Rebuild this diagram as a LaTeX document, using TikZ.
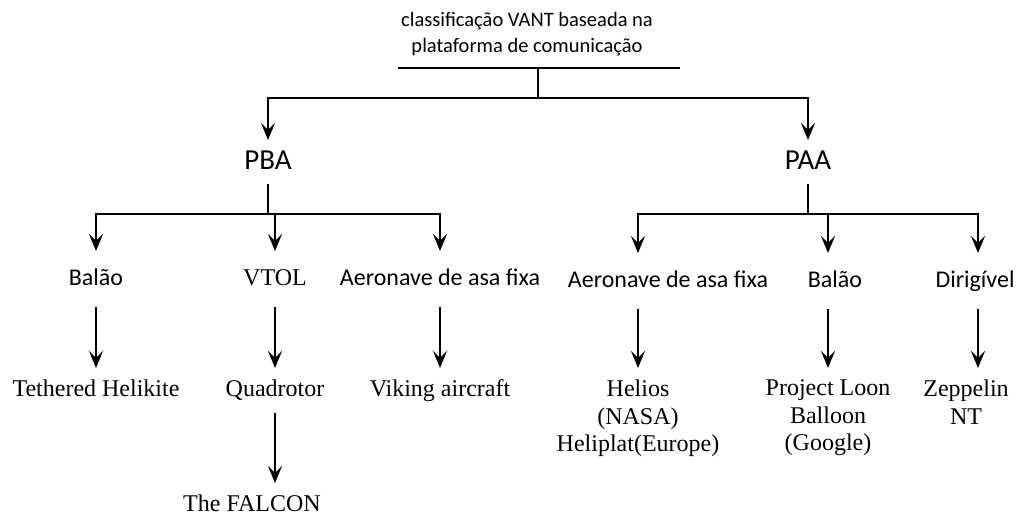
\documentclass[tikz,border=0pt]{standalone}
\usepackage{fontspec}
\setmainfont{Liberation Serif}
\newfontfamily\calibrifont{Carlito}
\usetikzlibrary{arrows.meta}
\usetikzlibrary{positioning}

\begin{document}
\begin{tikzpicture}[x=1pt,y=-1pt,
  topic/.style={font=\calibrifont\fontsize{20.5}{26}\selectfont, align=center, inner sep=0pt},
  platform/.style={font=\calibrifont\fontsize{29}{34}\selectfont, inner sep=0pt, text height=20pt, text depth=6pt, outer ysep=9pt},
  kind/.style={font=\calibrifont\fontsize{24}{28}\selectfont, inner sep=0pt, text height=17pt, text depth=5pt, outer ysep=17pt},
  craft/.style={font=\fontsize{24}{27.5}\selectfont, align=center, inner sep=0pt, outer ysep=12pt, anchor=north},
  link/.style={line width=2.8pt},
  arr/.style={line width=2.8pt, -{Stealth[length=17pt,width=14pt,inset=7pt]}}]
            % UAV classification tree
            \useasboundingbox (0,0) rectangle (1024,515);
            \node[topic] (topic) at (527,34) {classificação VANT baseada na\\plataforma de comunicação};
            \coordinate (barl) at (398,68);
            \coordinate (barr) at (680,68);
            \coordinate (bar) at (538,68);
            \coordinate (fork) at (538,98);
            
            \node[platform] (pba) at (268,162) {PBA};
            \node[platform] (paa) at (808,162) {PAA};
            \coordinate (forkpba) at (268,214);
            \coordinate (forkpaa) at (808,214);
            
            \node[kind] (balao1) at (96,279) {Balão};
            \node[kind, font=\fontsize{24}{28}\selectfont] (vtol) at (275,279) {VTOL};
            \node[kind] (asa1) at (440,279) {Aeronave de asa fixa};
            \node[kind] (asa2) at (668,281) {Aeronave de asa fixa};
            \node[kind] (balao2) at (835,281) {Balão};
            \node[kind] (dirigivel) at (975,281) {Dirigível};
            
            \node[craft] (helikite) at (96,368) {Tethered Helikite};
            \node[craft] (quadrotor) at (275,368) {Quadrotor};
            \node[craft] (viking) at (440,368) {Viking aircraft};
            \node[craft] (falcon) at (252,483) {The FALCON};
            \node[craft] (helios) at (638,368) {Helios\\(NASA)\\Heliplat(Europe)};
            \node[craft] (loon) at (828,368) {Project Loon\\Balloon\\(Google)};
            \node[craft] (zeppelin) at (966,368) {Zeppelin\\NT};
            
            \draw[link] (barl) -- (barr);
            \draw[link] (bar) -- (fork);
            \draw[arr] (fork) -| (pba);
            \draw[arr] (fork) -| (paa);
            \draw[link] (pba) -- (forkpba);
            \draw[arr] (forkpba) -| (balao1);
            \draw[arr] (forkpba) -| (vtol);
            \draw[arr] (forkpba) -| (asa1);
            \draw[link] (paa) -- (forkpaa);
            \draw[arr] (forkpaa) -| ([xshift=-30]asa2.north);
            \draw[arr] (forkpaa) -| ([xshift=-7]balao2.north);
            \draw[arr] (forkpaa) -| ([xshift=3]dirigivel.north);
            \draw[arr] (balao1) -- (helikite);
            \draw[arr] (vtol) -- (quadrotor);
            \draw[arr] (asa1) -- (viking);
            \draw[arr] (quadrotor) -- ([xshift=23]falcon.north);
            \draw[arr] ([xshift=-30]asa2.south) -- (helios);
            \draw[arr] ([xshift=-7]balao2.south) -- (loon);
            \draw[arr] ([xshift=3]dirigivel.south) -- ([xshift=12]zeppelin.north);
\end{tikzpicture}
\end{document}
